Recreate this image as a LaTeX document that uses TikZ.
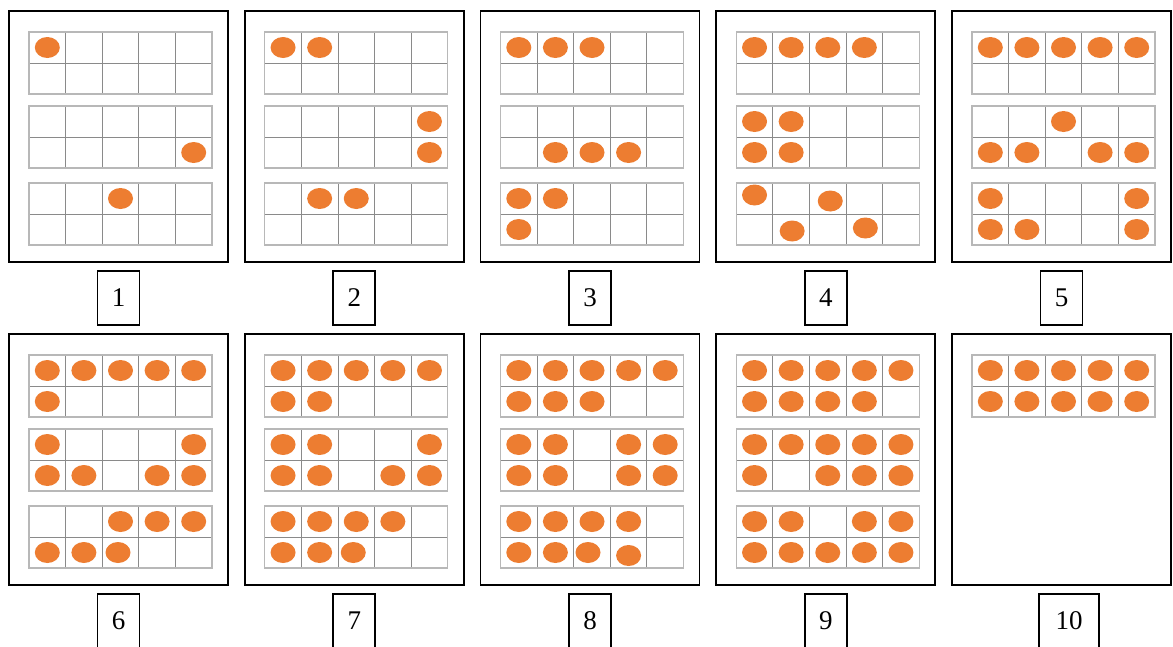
\documentclass[tikz,border=0pt]{standalone}
\usepackage{fontspec}
\setmainfont{Liberation Serif}
\definecolor{dotc}{HTML}{ED7D31}
\definecolor{gline}{HTML}{8A8A8A}
\definecolor{gborder}{HTML}{B8B8B8}
\newcommand\gtop[1]{\ifcase#1 21\or 95\or 172\fi}
% plain dots: panel column, panel row, list g/r/c
\newcommand\tfd[3]{%
  \foreach \g/\r/\c in {#3}{%
    \pgfmathsetmacro\ddx{9+235.75*#1+20+(\c+0.5)*36.6}%
    \pgfmathsetmacro\ddy{11+323*#2+\gtop{\g}+15.5+\r*31}%
    \fill[dotc] (\ddx,\ddy) ellipse[x radius=12.5,y radius=10.5];}}
% shifted dots: list g/r/c/dx/dy
\newcommand\tfo[3]{%
  \foreach \g/\r/\c/\ox/\oy in {#3}{%
    \pgfmathsetmacro\ddx{9+235.75*#1+20+(\c+0.5)*36.6+\ox}%
    \pgfmathsetmacro\ddy{11+323*#2+\gtop{\g}+15.5+\r*31+\oy}%
    \fill[dotc] (\ddx,\ddy) ellipse[x radius=12.5,y radius=10.5];}}
% ten-frame grid at top-left (#1,#2)
\newcommand\tframe[2]{%
  \foreach \k in {1,...,4}{\draw[gridln] ({#1+\k*36.6},#2) -- ++(0,62);}
  \draw[gridln] (#1,{#2+31}) -- ++(183,0);
  \draw[gridbd] (#1,#2) rectangle ++(183,62);}
\tikzset{
  panel/.style={draw=black,line width=1.8pt},
  gridln/.style={draw=gline,line width=0.9pt},
  gridbd/.style={draw=gborder,line width=1.4pt},
  lab/.style={draw=black,line width=1.6pt,minimum width=42,minimum height=54,inner sep=0pt,
    font=\fontsize{27}{27}\selectfont}
}
\begin{document}
\begin{tikzpicture}[x=1pt,y=-1pt]
\useasboundingbox (0,0) rectangle (1173,646);
\fill[white] (0,0) rectangle (1173,646);
% panels and grids
\foreach \i in {0,...,4}{
  \foreach \j in {0,1}{
    \pgfmathsetmacro\px{9+235.75*\i}
    \pgfmathsetmacro\py{11+323*\j}
    \draw[panel] (\px,\py) rectangle ++(219,251);
    \ifnum\i\j=41
      \tframe{\px+20}{\py+21}
    \else
      \foreach \gy in {21,95,172}{\tframe{\px+20}{\py+\gy}}
    \fi
  }
}
% dots, row 1
\tfd{0}{0}{0/0/0, 1/1/4, 2/0/2}
\tfd{1}{0}{0/0/0,0/0/1, 1/0/4,1/1/4, 2/0/1,2/0/2}
\tfd{2}{0}{0/0/0,0/0/1,0/0/2, 1/1/1,1/1/2,1/1/3, 2/0/0,2/0/1,2/1/0}
\tfd{3}{0}{0/0/0,0/0/1,0/0/2,0/0/3, 1/0/0,1/0/1,1/1/0,1/1/1}
\tfo{3}{0}{2/0/0/0/-3.5, 2/0/2/2.5/2.5, 2/1/1/1/1.5, 2/1/3/1/-1.5}
\tfd{4}{0}{0/0/0,0/0/1,0/0/2,0/0/3,0/0/4, 1/0/2, 1/1/0,1/1/1,1/1/3,1/1/4, 2/0/0,2/0/4,2/1/0,2/1/1,2/1/4}
% dots, row 2
\tfd{0}{1}{0/0/0,0/0/1,0/0/2,0/0/3,0/0/4, 0/1/0, 1/0/0,1/0/4,1/1/0,1/1/1,1/1/3,1/1/4, 2/0/2,2/0/3,2/0/4,2/1/0,2/1/1}
\tfo{0}{1}{2/1/2/-2.5/0}
\tfd{1}{1}{0/0/0,0/0/1,0/0/2,0/0/3,0/0/4, 0/1/0,0/1/1, 1/0/0,1/0/1,1/0/4, 1/1/0,1/1/1,1/1/3,1/1/4, 2/0/0,2/0/1,2/0/2,2/0/3, 2/1/0,2/1/1}
\tfo{1}{1}{2/1/2/-3/0}
\tfd{2}{1}{0/0/0,0/0/1,0/0/2,0/0/3,0/0/4, 0/1/0,0/1/1,0/1/2, 1/0/0,1/0/1,1/0/3,1/0/4, 1/1/0,1/1/1,1/1/3,1/1/4, 2/0/0,2/0/1,2/0/2,2/0/3, 2/1/0,2/1/1}
\tfo{2}{1}{2/1/2/-4/0, 2/1/3/0/3}
\tfd{3}{1}{0/0/0,0/0/1,0/0/2,0/0/3,0/0/4, 0/1/0,0/1/1,0/1/2,0/1/3, 1/0/0,1/0/1,1/0/2,1/0/3,1/0/4, 1/1/0,1/1/2,1/1/3,1/1/4, 2/0/0,2/0/1,2/0/3,2/0/4, 2/1/0,2/1/1,2/1/2,2/1/3,2/1/4}
\tfd{4}{1}{0/0/0,0/0/1,0/0/2,0/0/3,0/0/4, 0/1/0,0/1/1,0/1/2,0/1/3,0/1/4}
% labels
\node[lab] (lab1) at (118.5,298) {1};
\node[lab] (lab2) at (354.25,298) {2};
\node[lab] (lab3) at (590,298) {3};
\node[lab] (lab4) at (825.75,298) {4};
\node[lab] (lab5) at (1061.5,298) {5};
\node[lab] (lab6) at (118.5,621) {6};
\node[lab] (lab7) at (354.25,621) {7};
\node[lab] (lab8) at (590,621) {8};
\node[lab] (lab9) at (825.75,621) {9};
\node[lab,minimum width=60] (lab10) at (1069,621) {10};
\end{tikzpicture}
\end{document}
